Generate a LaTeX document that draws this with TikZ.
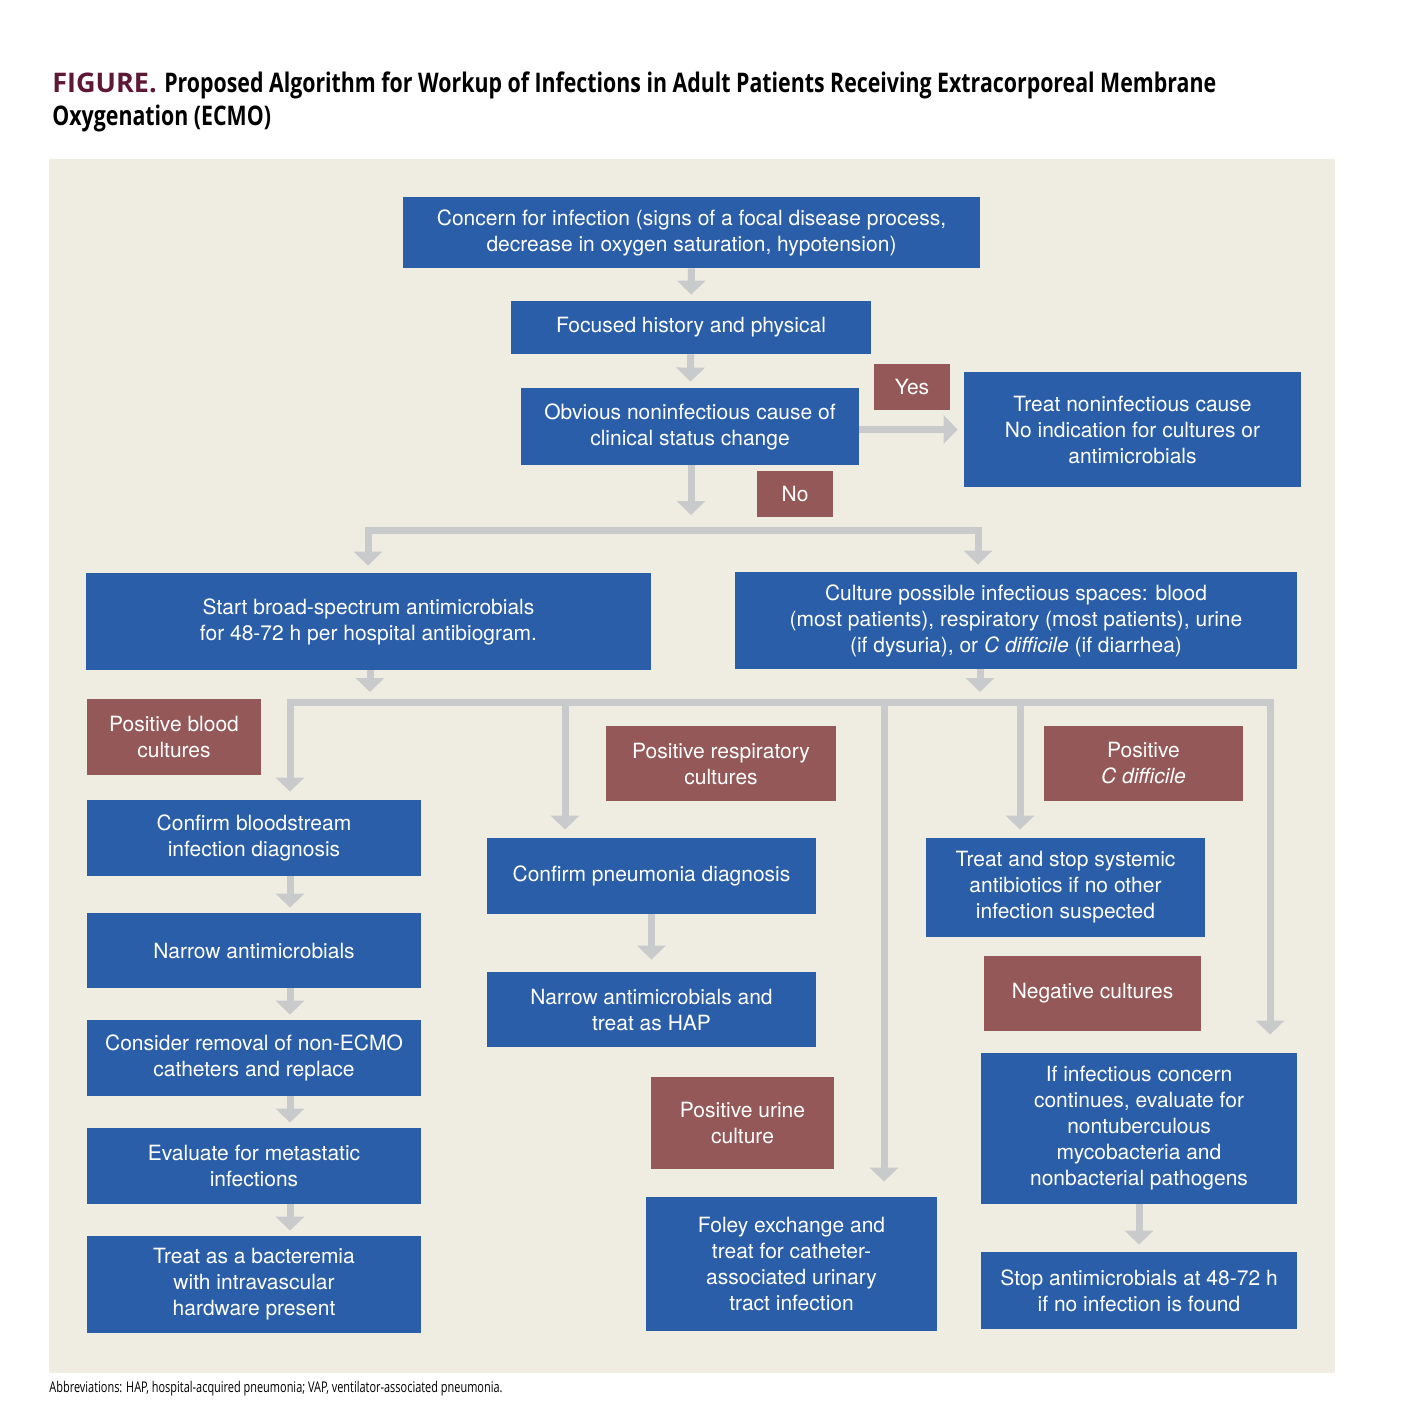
\documentclass[tikz,border=0pt]{standalone}
\usepackage{fontspec}
\setmainfont{TeX Gyre Heros}
\newfontfamily\titlefont[FakeStretch=0.79]{Open Sans}
\newfontfamily\figfont{Open Sans}
\newfontfamily\notefont[FakeStretch=0.74]{Open Sans}
\usetikzlibrary{arrows.meta}

\definecolor{ecmoblue}{RGB}{42,94,168}
\definecolor{ecmored}{RGB}{149,88,88}
\definecolor{bgbeige}{RGB}{239,236,226}
\definecolor{arrowgray}{RGB}{201,202,204}
\definecolor{figmaroon}{RGB}{94,24,54}

\tikzset{
  boxtext/.style={text=white, inner sep=0pt, align=center,
    font=\fontsize{10.5}{13}\selectfont},
  bluebox/.style={boxtext, fill=ecmoblue},
  redbox/.style={boxtext, fill=ecmored},
  gtip/.tip={Triangle[width=14pt,length=7pt]},
  garrow/.style={draw=arrowgray, line width=3.5pt, -gtip, line join=miter},
}

\begin{document}
\begin{tikzpicture}[x=0.5pt,y=-0.5pt]
  \useasboundingbox (0,0) rectangle (1414,1418);
  \fill[bgbeige] (49,159) rectangle (1335,1373);

  % title and note
  \node[anchor=base west, inner sep=0pt, font=\fontsize{13.5}{16}\selectfont] (title1) at (52,93)
    {{\figfont\bfseries\color{figmaroon}FIGURE.} {\titlefont\bfseries Proposed Algorithm for Workup of Infections in Adult Patients Receiving Extracorporeal Membrane}};
  \node[anchor=base west, inner sep=0pt, font=\fontsize{13.5}{16}\selectfont] (title2) at (52,126)
    {\titlefont\bfseries Oxygenation (ECMO)};
  \node[anchor=base west, inner sep=0pt, font=\fontsize{7.4}{8}\selectfont] (note) at (49,1392)
    {\notefont Abbreviations: HAP, hospital-acquired pneumonia; VAP, ventilator-associated pneumonia.};

  % top of the algorithm
  \node[bluebox, minimum width=288.5pt, minimum height=35.5pt] (concern) at (691.5,232.5)
    {Concern for infection (signs of a focal disease process,\\decrease in oxygen saturation, hypotension)};
  \node[bluebox, minimum width=180pt, minimum height=26.5pt] (focused) at (691,327.5)
    {Focused history and physical};
  \node[bluebox, minimum width=169pt, minimum height=38.5pt] (obvious) at (690,426.5)
    {Obvious noninfectious cause of\\clinical status change};
  \node[redbox, minimum width=38pt, minimum height=23pt] (yes) at (912,387) {Yes};
  \node[bluebox, minimum width=168.5pt, minimum height=57.5pt] (treatnon) at (1132.5,429.5)
    {Treat noninfectious cause\\No indication for cultures or\\antimicrobials};
  \node[redbox, minimum width=38pt, minimum height=23pt] (no) at (795,494) {No};

  \node[bluebox, minimum width=282.5pt, minimum height=48.5pt] (broad) at (368.5,621.5)
    {Start broad-spectrum antimicrobials\\for 48-72 h per hospital antibiogram.};
  \node[bluebox, minimum width=281pt, minimum height=48.5pt] (culture) at (1016,620.5)
    {Culture possible infectious spaces: blood\\(most patients), respiratory (most patients), urine\\(if dysuria), or \textit{C difficile} (if diarrhea)};

  % blood
  \node[redbox, minimum width=87pt, minimum height=38pt] (posblood) at (174,737)
    {Positive blood\\cultures};
  \node[bluebox, minimum width=167pt, minimum height=38pt] (confirmbsi) at (254,838)
    {Confirm bloodstream\\infection diagnosis};
  \node[bluebox, minimum width=167pt, minimum height=37.5pt] (narrow) at (254,950.5)
    {Narrow antimicrobials};
  \node[bluebox, minimum width=167pt, minimum height=38pt] (removal) at (254,1058)
    {Consider removal of non-ECMO\\catheters and replace};
  \node[bluebox, minimum width=167pt, minimum height=38pt] (metast) at (254,1166)
    {Evaluate for metastatic\\infections};
  \node[bluebox, minimum width=167pt, minimum height=48.5pt] (bacter) at (254,1284.5)
    {Treat as a bacteremia\\with intravascular\\hardware present};

  % respiratory and urine
  \node[redbox, minimum width=115pt, minimum height=37.5pt] (posresp) at (721,763.5)
    {Positive respiratory\\cultures};
  \node[bluebox, minimum width=164.5pt, minimum height=38pt] (confpneu) at (651.5,876)
    {Confirm pneumonia diagnosis};
  \node[bluebox, minimum width=164.5pt, minimum height=37.5pt] (narrowhap) at (651.5,1009.5)
    {Narrow antimicrobials and\\treat as HAP};
  \node[redbox, minimum width=91.5pt, minimum height=46pt] (posurine) at (742.5,1123)
    {Positive urine\\culture};
  \node[bluebox, minimum width=145.5pt, minimum height=67pt] (foley) at (791.5,1264)
    {Foley exchange and\\treat for catheter-\\associated urinary\\tract infection};

  % c difficile and negative
  \node[redbox, minimum width=99.5pt, minimum height=37.5pt] (poscdiff) at (1143.5,763.5)
    {Positive\\\textit{C difficile}};
  \node[bluebox, minimum width=139.5pt, minimum height=49.5pt] (treatstop) at (1065.5,887.5)
    {Treat and stop systemic\\antibiotics if no other\\infection suspected};
  \node[redbox, minimum width=108.5pt, minimum height=37.5pt] (negcult) at (1092.5,993.5)
    {Negative cultures};
  \node[bluebox, minimum width=158pt, minimum height=75.5pt] (ifconcern) at (1139,1128.5)
    {If infectious concern\\continues, evaluate for\\nontuberculous\\mycobacteria and\\nonbacterial pathogens};
  \node[bluebox, minimum width=158pt, minimum height=38.5pt] (stopam) at (1139,1290.5)
    {Stop antimicrobials at 48-72 h\\if no infection is found};

  % points where the gray arrows start or end
  \coordinate (noend) at (691,515);
  \coordinate (bar1l) at (368,530);
  \coordinate (bar1r) at (978,530);
  \coordinate (broadend) at (370,692);
  \coordinate (cultend) at (980,692);
  \coordinate (d1) at (290,702);
  \coordinate (d2) at (565,702);
  \coordinate (d3) at (884,702);
  \coordinate (d4) at (1020,702);
  \coordinate (d5) at (1270,702);

  % arrows
  \draw[garrow, shorten >=3pt] (concern) -- (focused);
  \draw[garrow, shorten >=3pt] (focused) -- (obvious);
  \draw[garrow] (obvious.south -| noend) -- (noend);
  \draw[garrow, shorten >=3pt] (obvious.east |- treatnon.west) -- (treatnon.west);
  \draw[garrow, gtip-gtip, shorten >=3.5pt, shorten <=3.5pt]
    (bar1l |- broad.north) -- (bar1l) -- (bar1r) -- (bar1r |- culture.north);
  \draw[garrow] (broad.south -| broadend) -- (broadend);
  \draw[garrow] (culture.south -| cultend) -- (cultend);

  \draw[garrow, gtip-gtip, shorten >=9pt, shorten <=4pt]
    (d1 |- confirmbsi.north) -- (d1) -- (d5) -- (d5 |- ifconcern.north);
  \draw[garrow, shorten >=4pt] (d2) -- (d2 |- confpneu.north);
  \draw[garrow, shorten >=7.5pt] (d3) -- (d3 |- foley.north);
  \draw[garrow, shorten >=4pt] (d4) -- (d4 |- treatstop.north);

  \draw[garrow, shorten >=2.5pt] (confirmbsi.south -| d1) -- (narrow.north -| d1);
  \draw[garrow, shorten >=2.5pt] (narrow.south -| d1) -- (removal.north -| d1);
  \draw[garrow, shorten >=2.5pt] (removal.south -| d1) -- (metast.north -| d1);
  \draw[garrow, shorten >=2.5pt] (metast.south -| d1) -- (bacter.north -| d1);
  \draw[garrow, shorten >=6pt] (confpneu) -- (narrowhap);
  \draw[garrow, shorten >=3.5pt] (ifconcern) -- (stopam);
\end{tikzpicture}
\end{document}
